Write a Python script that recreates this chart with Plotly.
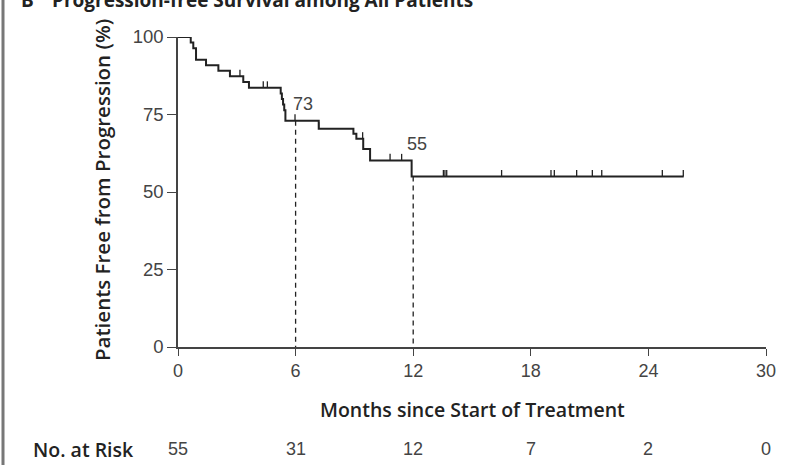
import plotly.graph_objects as go

# Kaplan-Meier step data: progression-free survival (%) over months
step_months = [0, 0.65, 0.78, 0.92, 1.43, 2.06, 2.65, 3.33, 3.62, 5.24, 5.30,
               5.36, 5.42, 5.48, 7.18, 8.95, 9.10, 9.45, 9.80, 11.92, 25.8]
survival_pct = [100, 98.2, 96.4, 92.7, 90.9, 89.1, 87.3, 85.5, 83.6, 81.8, 80.0,
                78.2, 76.4, 73.0, 70.4, 68.8, 67.2, 63.9, 60.2, 55.0, 55.0]

# censored observations (months)
censor_months = [3.16, 4.35, 4.56, 5.97, 7.18, 9.42, 10.82, 11.41, 13.54, 13.62,
                 13.71, 16.51, 19.03, 19.20, 20.34, 21.14, 21.62, 24.71, 25.78]

# landmark estimates
landmark_months = [6, 12]
landmark_pct = [73, 55]

# numbers at risk
risk_months = [0, 6, 12, 18, 24, 30]
risk_counts = [55, 31, 12, 7, 2, 0]

x_ticks = [0, 6, 12, 18, 24, 30]
y_ticks = [0, 25, 50, 75, 100]

FONT = "Open Sans, Liberation Sans, sans-serif"
NUM_FONT = "Liberation Sans, Arial, sans-serif"
INK = "#222222"
GREY = "#444444"


def surv_at(t):
    s = survival_pct[0]
    for m, v in zip(step_months, survival_pct):
        if m <= t:
            s = v
    return s


fig = go.Figure()

# dashed landmark lines from the curve down to the x axis
for m, p in zip(landmark_months, landmark_pct):
    fig.add_trace(go.Scatter(
        x=[m, m], y=[p, 0], mode="lines",
        line=dict(color=INK, width=1.3, dash="5px,4px"),
        hoverinfo="skip", showlegend=False, cliponaxis=False))

# survival curve
fig.add_trace(go.Scatter(
    x=step_months, y=survival_pct, mode="lines",
    line=dict(color=INK, width=2, shape="hv"),
    showlegend=False, cliponaxis=False))

# censoring ticks drawn as upward bars on the curve
cy = [surv_at(t) for t in censor_months]
fig.add_trace(go.Scatter(
    x=censor_months, y=cy, mode="markers",
    marker=dict(size=1, color="rgba(0,0,0,0)"),
    error_y=dict(type="data", symmetric=False,
                 array=[2.1] * len(cy), arrayminus=[0] * len(cy),
                 thickness=1.3, width=0, color=INK),
    showlegend=False, cliponaxis=False))

PLOT_L, PLOT_R, PLOT_T, PLOT_B = 178, 766, 37, 347
W, H = 808, 465
pw = PLOT_R - PLOT_L
ph = PLOT_B - PLOT_T


def px_x(p):
    return (p - PLOT_L) / pw


def px_y(p):
    return (PLOT_B - p) / ph


annotations = []
# landmark value labels
annotations.append(dict(x=landmark_months[0], y=landmark_pct[0], xref="x", yref="y",
                        text=str(landmark_pct[0]), showarrow=False,
                        xanchor="left", yanchor="bottom", xshift=-5, yshift=5,
                        font=dict(family=NUM_FONT, size=18, color=GREY)))
annotations.append(dict(x=landmark_months[1], y=landmark_pct[1], xref="x", yref="y",
                        text=str(landmark_pct[1]), showarrow=False,
                        xanchor="left", yanchor="bottom", xshift=-8, yshift=21,
                        font=dict(family=NUM_FONT, size=18, color=GREY)))

# axis titles
annotations.append(dict(x=0.5, y=px_y(409), xref="paper", yref="paper",
                        text="Months since Start of Treatment", showarrow=False,
                        xanchor="center", yanchor="middle",
                        font=dict(family=FONT, size=19.5, color=INK, weight=600)))
annotations.append(dict(x=px_x(102), y=px_y(190), xref="paper", yref="paper",
                        text="Patients Free from Progression (%)", showarrow=False,
                        textangle=-90, xanchor="center", yanchor="middle",
                        font=dict(family=FONT, size=20.5, color=INK, weight=600)))

# panel title (letter and heading)
annotations.append(dict(x=px_x(19), y=px_y(15), xref="paper", yref="paper",
                        text="B", showarrow=False, xanchor="left", yanchor="bottom",
                        font=dict(family=FONT, size=19, color=INK, weight=700)))
annotations.append(dict(x=px_x(50), y=px_y(15), xref="paper", yref="paper",
                        text="Progression-free Survival among All Patients",
                        showarrow=False, xanchor="left", yanchor="bottom",
                        font=dict(family=FONT, size=19, color=INK, weight=700)))

# numbers at risk row
annotations.append(dict(x=px_x(31), y=px_y(449), xref="paper", yref="paper",
                        text="No. at Risk", showarrow=False,
                        xanchor="left", yanchor="middle",
                        font=dict(family=FONT, size=19.5, color=INK, weight=600)))
for m, n in zip(risk_months, risk_counts):
    annotations.append(dict(x=m, y=px_y(449), xref="x", yref="paper",
                            text=str(n), showarrow=False,
                            xanchor="center", yanchor="middle",
                            font=dict(family=NUM_FONT, size=18, color=GREY)))

# frame rule along the left edge
shapes = [dict(type="line", xref="paper", yref="paper",
               x0=px_x(3), x1=px_x(3), y0=px_y(0), y1=px_y(H),
               line=dict(color="#777777", width=3))]

fig.update_layout(
    width=W, height=H,
    margin=dict(l=PLOT_L, r=W - PLOT_R, t=PLOT_T, b=H - PLOT_B, pad=0),
    paper_bgcolor="white", plot_bgcolor="white",
    annotations=annotations, shapes=shapes,
    xaxis=dict(range=[0, 30], tickvals=x_ticks, ticks="outside", ticklen=7,
               tickwidth=1.3, tickcolor=GREY, showline=True, linecolor=GREY,
               linewidth=1.5, showgrid=False, zeroline=False,
               tickfont=dict(family=NUM_FONT, size=18, color=GREY)),
    yaxis=dict(range=[0, 100], tickvals=y_ticks, ticks="outside", ticklen=9,
               tickwidth=1.3, tickcolor=GREY, showline=True, linecolor=GREY,
               linewidth=1.5, showgrid=False, zeroline=False,
               tickfont=dict(family=NUM_FONT, size=18.5, color=GREY)),
)

fig.write_html("out.html")
